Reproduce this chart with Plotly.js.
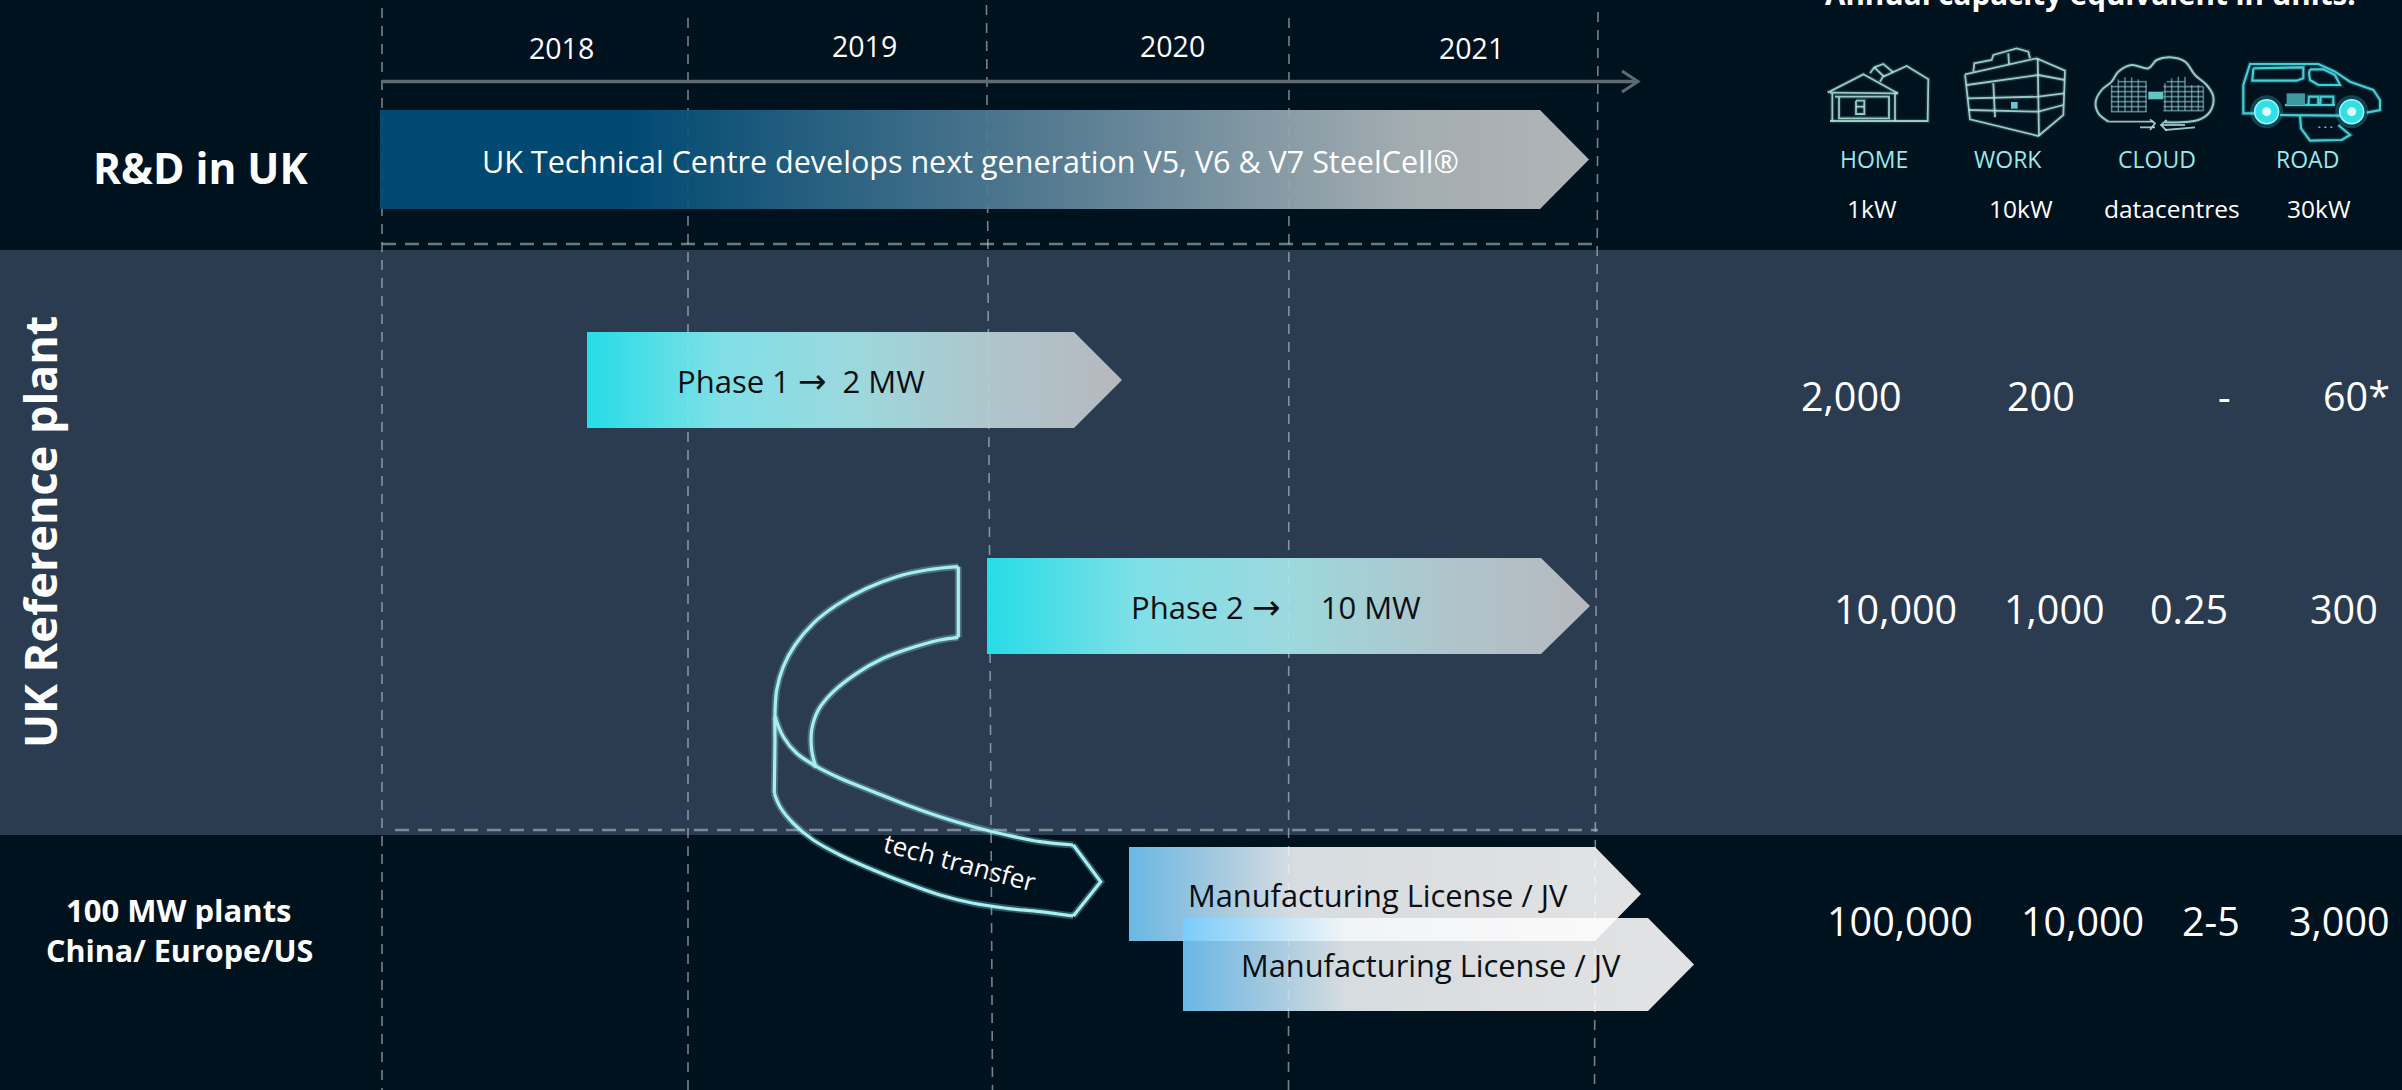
<!DOCTYPE html>
<html><head><meta charset="utf-8">
<script src="https://cdn.plot.ly/plotly-3.0.1.min.js"></script>
<style>html,body{margin:0;padding:0;background:#01121f;overflow:hidden}#c{width:2402px;height:1090px}</style>
</head><body><div id="c"></div>
<script>
// ---------- data ----------
const years = ['2018','2019','2020','2021'];
const yearX = [561,864,1172,1471];
const yearY = [48,46,46,48];
const gridX0 = [382,688,986.5,1289,1598];
const gridX1 = [382,688,992.5,1288.5,1594.5];
const gridY0 = [8,18,5,18,12];
const hLineX0 = [382,395];
const hLineX1 = [1598,1598];
const hLineY = [244,830];
const axisLineX = [382,1636];
const axisLineY = [81.5,81.5];
const axisHeadX = [1622,1638,1622];
const axisHeadY = [71,81.5,92];

const ARROW = '<span style="font-family:\'DejaVu Sans\';font-size:34px">→</span>';
const barLabels = ['UK Technical Centre develops next generation V5, V6 &amp; V7 SteelCell®','Phase 1 '+ARROW+'  2 MW','Phase 2 '+ARROW+'     10 MW','Manufacturing License / JV','Manufacturing License / JV'];
const barStart = [380,587,987,1129,1183];
const barHead  = [1540,1074,1541,1595,1648];
const barEnd   = [1589,1122,1590,1641,1694];
const barTop   = [110,332,558,847,918];
const barBottom= [209,428,654,941,1011];
const barTextX = [970,801,1276,1378,1431];
const barTextY = [161,381,607,895,965];
const barTextColor = ['#ffffff','#0b0f14','#0b0f14','#0b0f14','#0b0f14'];
const barTextSize = [30.5,31,31,30.8,30.8];
const rdScale = [[0,'rgba(0,77,120,0.93)'],[0.2,'rgba(0,77,120,0.93)'],[0.55,'rgba(90,130,153,0.93)'],[0.85,'rgba(175,184,188,0.93)'],[1,'rgba(190,193,195,0.93)']];
const phaseScale = [[0,'rgba(37,232,242,0.93)'],[0.25,'rgba(134,236,242,0.93)'],[0.5,'rgba(164,228,232,0.93)'],[0.75,'rgba(184,208,213,0.93)'],[1,'rgba(192,194,198,0.93)']];
const licScale = [[0,'rgba(120,206,255,0.88)'],[0.15,'rgba(177,223,249,0.88)'],[0.32,'rgba(243,248,251,0.88)'],[0.6,'rgba(250,250,251,0.88)'],[1,'rgba(255,255,255,0.88)']];
const barScales = [rdScale,phaseScale,phaseScale,licScale,licScale];

const sideLabels = ['R&amp;D in UK','UK Reference plant','100 MW plants','China/ Europe/US'];
const sideX = [200,39,179,179];
const sideY = [167,532,910,950];
const sideSize = [42.5,45,31,30.5];
const sideAngle = [0,-90,0,0];

const headerText = 'Annual capacity equivalent in units:';
const headerX = 2090, headerY = 16;

const iconNames = ['HOME','WORK','CLOUD','ROAD'];
const iconNameX = [1874,2008,2157,2307];
const iconNameY = 159;
const iconKw = ['1kW','10kW','datacentres','30kW'];
const iconKwX = [1872,2021,2172,2319];
const iconKwY = 208;

const unitRows = [
  ['2,000','200','-','60*'],
  ['10,000','1,000','0.25','300'],
  ['100,000','10,000','2-5','3,000']];
const unitX = [
  [1851,2041,2224,2356],
  [1895,2054,2189,2344],
  [1900,2082,2211,2339]];
const unitY = [396,609,921];

const techX_outer = [958.3,926.7,896.7,866.7,836.7,813.3,795,783.3,776.7,775,775];
const techY_outer = [566.7,570,576.7,588.3,605,623.3,645,666.7,690,713.3,740];
const techX_low = [774.3,780,793.3,813.3,840,873.3,906.7,940,973.3,1006.7,1040,1073.3];
const techY_low = [793.3,806.7,823.3,840,855,870,883.3,895,903.3,908.3,911.7,916];
const techX_up = [1073.3,1040,1006.7,973.3,940,906.7,873.3,840,816.7,796.7,783.3,775];
const techY_up = [845,841.7,835,826.7,816.7,805,791.7,778.3,766.7,753.3,736.7,716.7];
const techX_inner = [958.3,940,913.3,883.3,856.7,833.3,818.3,811.7,811.7,816];
const techY_inner = [637.3,640,647.3,658.3,673.3,691.7,710,730,750,767.7];
const techX_straight = [775,774.3,null,1073.3,1100.7,1073.3,null,958.3,958.3];
const techY_straight = [740,793.3,null,916,881.7,845,null,566.7,637.3];

// icon outlines, in the units of their own overlay axes
const homeX = [38,145,248,null,45,250,null,60,225,null,52,52,null,240,240,null,45,338,340,275,205,null,165,178,205,222,235,null,178,205,195,null,72,72,222,222,null,123,148,148,123,123,null,123,148];
const homeY = [158,103,160,null,158,160,null,170,170,null,160,243,null,160,243,null,243,243,118,78,110,null,100,82,72,85,97,null,82,108,125,null,172,235,235,172,null,182,182,222,222,182,null,200,200];
const workX = [450,665,750,745,670,465,450,null,668,672,null,475,478,530,535,605,640,645,null,580,582,null,455,670,750,null,458,670,748,null,460,670,745,null,535,540];
const workY = [103,55,92,225,288,238,103,null,55,288,null,95,70,60,45,25,35,55,null,40,72,null,135,105,120,null,175,170,160,null,210,215,195,null,130,232];
const workBoxX = [588,608,608,588,588];
const workBoxY = [186,186,206,206,186];
const cloudX = [70,40,32,50,80,100,140,190,215,255,300,330,365,385,375,340,240];
const cloudY = [245,220,185,150,125,95,75,85,60,52,65,105,135,170,215,240,247];
const cloudArrowX = [70,205,null,195,210,195,null,165,210,null,230,300,null,245,228,245,null,240,330];
const cloudArrowY = [245,245,null,238,250,270,null,262,262,null,255,255,null,240,255,272,null,270,262];
const rackX = [100,185,null,78,185,null,78,185,null,78,185,null,78,185,null,78,185,null,78,185,null,245,300,null,235,355,null,235,355,null,235,355,null,235,355,null,235,355,null,235,355,null,80,80,null,100,100,null,120,120,null,140,140,null,160,160,null,183,183,null,240,240,null,260,260,null,280,280,null,300,300,null,320,320,null,340,340,null,355,355];
const rackY = [125,125,null,140,140,null,155,155,null,170,170,null,185,185,null,200,200,null,215,215,null,125,125,null,140,140,null,155,155,null,170,170,null,185,185,null,200,200,null,212,212,null,135,215,null,118,215,null,112,215,null,112,215,null,118,215,null,125,215,null,130,212,null,115,212,null,110,212,null,110,212,null,135,212,null,135,212,null,140,212];
const cloudCoreX = [190,235,235,190,190];
const cloudCoreY = [155,155,178,178,155];
const vanX = [60,25,25,45,250,300,345,415,435,435,395,null,135,315,null,55,205,205,185,52,55,null,225,265,300,315,250,225,222,225,null,150,300,null,220,222,250,250,null,255,258,295,295,null,195,198,225,320,345,310];
const vanY = [190,190,105,42,42,65,95,120,150,180,188,null,195,197,null,55,52,85,92,92,55,null,58,58,75,105,105,90,70,58,null,165,165,null,165,140,140,165,null,165,140,140,165,null,195,235,272,270,255,225];
const vanDotsX = [250,300];
const vanDotsY = [232,232];
const batteryX = [155,210,210,155,155];
const batteryY = [130,130,165,165,130];
const wheelX = [95,350];
const wheelY = [185,185];

// ---------- traces ----------
const traces = [];
const lineTrace = (x,y,color,width,dash,shape,extra) => Object.assign({
  type:'scatter',mode:'lines',x,y,hoverinfo:'skip',showlegend:false,connectgaps:false,
  line:{color,width,dash:dash||'solid',shape:shape||'linear',smoothing:1}},extra||{});
const patch = (x,y,color,extra) => Object.assign({type:'scatter',mode:'none',x,y,fill:'toself',fillcolor:color,hoverinfo:'skip',showlegend:false},extra);

gridX0.forEach((g,i)=>traces.push(lineTrace([g,gridX1[i]],[gridY0[i],1090],'rgba(196,203,210,0.6)',1.6,'10px,8px')));
hLineY.forEach((h,i)=>traces.push(lineTrace([hLineX0[i],hLineX1[i]],[h,h],'rgba(196,203,210,0.55)',2.4,'14px,9px')));
traces.push(lineTrace(axisLineX,axisLineY,'#5e6a70',3.5));
traces.push(lineTrace(axisHeadX,axisHeadY,'#5e6a70',3));

barStart.forEach((b,i)=>{
  const midY=(barTop[i]+barBottom[i])/2;
  traces.push({type:'scatter',mode:'none',hoverinfo:'skip',showlegend:false,
    x:[b,barHead[i],barEnd[i],barHead[i],b,b],
    y:[barTop[i],barTop[i],midY,barBottom[i],barBottom[i],barTop[i]],
    fill:'toself',
    fillgradient:{type:'horizontal',colorscale:barScales[i]}});
});

const techParts = [[techX_outer,techY_outer,'spline'],[techX_low,techY_low,'spline'],[techX_up,techY_up,'spline'],[techX_inner,techY_inner,'spline'],[techX_straight,techY_straight,'linear']];
techParts.forEach(p=>traces.push(lineTrace(p[0],p[1],'rgba(140,235,240,0.3)',7,'solid',p[2])));
techParts.forEach(p=>traces.push(lineTrace(p[0],p[1],'#a8eef1',3.2,'solid',p[2])));

const hw = {xaxis:'x2',yaxis:'y2'}, cl = {xaxis:'x3',yaxis:'y3'}, rd = {xaxis:'x4',yaxis:'y4'};
const pale = 'rgba(178,228,220,0.85)', haze = 'rgba(150,225,220,0.16)';
[[homeX,homeY],[workX,workY]].forEach(p=>{
  traces.push(lineTrace(p[0],p[1],haze,4.5,'solid','linear',hw));
  traces.push(lineTrace(p[0],p[1],pale,1.8,'solid','linear',hw));
});
traces.push(patch(workBoxX,workBoxY,'#63c9d2',hw));
traces.push(lineTrace(rackX,rackY,'rgba(140,200,205,0.6)',1.6,'solid','linear',cl));
traces.push(lineTrace(cloudX,cloudY,haze,4.5,'solid','spline',cl));
traces.push(lineTrace(cloudX,cloudY,pale,2,'solid','spline',cl));
traces.push(lineTrace(cloudArrowX,cloudArrowY,pale,1.8,'solid','linear',cl));
traces.push(patch(cloudCoreX,cloudCoreY,'#5fc6c4',cl));
traces.push(lineTrace(vanX,vanY,'rgba(60,215,225,0.2)',5,'solid','linear',rd));
traces.push(lineTrace(vanX,vanY,'#46cdd4',2.2,'solid','linear',rd));
traces.push(lineTrace(vanDotsX,vanDotsY,'#46cdd4',1.5,'2px,4px','linear',rd));
traces.push(patch(batteryX,batteryY,'#3f9a9f',rd));
traces.push(Object.assign({type:'scatter',mode:'markers',x:wheelX,y:wheelY,hoverinfo:'skip',showlegend:false,
  marker:{size:33,color:'rgba(60,225,235,0.25)'}},rd));
traces.push(Object.assign({type:'scatter',mode:'markers',x:wheelX,y:wheelY,hoverinfo:'skip',showlegend:false,
  marker:{size:24,color:'#31dfe6',line:{color:'#a5f5f7',width:1.5}}},rd));
traces.push(Object.assign({type:'scatter',mode:'markers',x:wheelX,y:wheelY,hoverinfo:'skip',showlegend:false,
  marker:{size:9,color:'#e2fcfc'}},rd));

// ---------- text ----------
const FONT = '"Open Sans", "Noto Sans", sans-serif';
const note = (text,x,y,size,color,opts) => Object.assign({
  text,x,y,xref:'x',yref:'y',showarrow:false,xanchor:'center',yanchor:'middle',
  font:{family:FONT,size,color}},opts||{});
const annotations = [];
years.forEach((t,i)=>annotations.push(note(t,yearX[i],yearY[i],28.5,'#ffffff')));
barLabels.forEach((t,i)=>annotations.push(note(t,barTextX[i],barTextY[i],barTextSize[i],barTextColor[i])));
sideLabels.forEach((t,i)=>annotations.push(note('<b>'+t+'</b>',sideX[i],sideY[i],sideSize[i],'#ffffff',{textangle:sideAngle[i]})));
annotations.push(note('<b>'+headerText+'</b>',headerX,headerY,29.6,'#ffffff',{yanchor:'bottom'}));
annotations.push(note('tech transfer',960,862,26,'#ffffff',{textangle:15}));
iconNames.forEach((t,i)=>annotations.push(note(t,iconNameX[i],iconNameY,23,'#9be8ea')));
iconKw.forEach((t,i)=>annotations.push(note(t,iconKwX[i],iconKwY,24.5,'#ffffff')));
unitRows.forEach((row,r)=>row.forEach((t,i)=>annotations.push(note(t,unitX[r][i],unitY[r],39.5,'#ffffff'))));

const hidden = {visible:false,fixedrange:true,showgrid:false,zeroline:false};
const layout = {
  width:2402,height:1090,margin:{l:0,r:0,t:0,b:0,pad:0},
  paper_bgcolor:'#01121f',plot_bgcolor:'#01121f',showlegend:false,
  xaxis:Object.assign({range:[0,2402]},hidden),
  yaxis:Object.assign({range:[1090,0]},hidden),
  xaxis2:Object.assign({range:[-5445,1761],overlaying:'x'},hidden),
  yaxis2:Object.assign({range:[3150,-120],overlaying:'y'},hidden),
  xaxis3:Object.assign({range:[-6255,951],overlaying:'x'},hidden),
  yaxis3:Object.assign({range:[3150,-120],overlaying:'y'},hidden),
  xaxis4:Object.assign({range:[-6705,501],overlaying:'x'},hidden),
  yaxis4:Object.assign({range:[3120,-150],overlaying:'y'},hidden),
  shapes:[
    {type:'rect',xref:'x',yref:'y',x0:0,x1:2402,y0:250,y1:835,layer:'below',line:{width:0},fillcolor:'#2c3c50'}
  ],
  annotations
};
Plotly.newPlot('c',traces,layout,{displayModeBar:false,staticPlot:true});
</script></body></html>
